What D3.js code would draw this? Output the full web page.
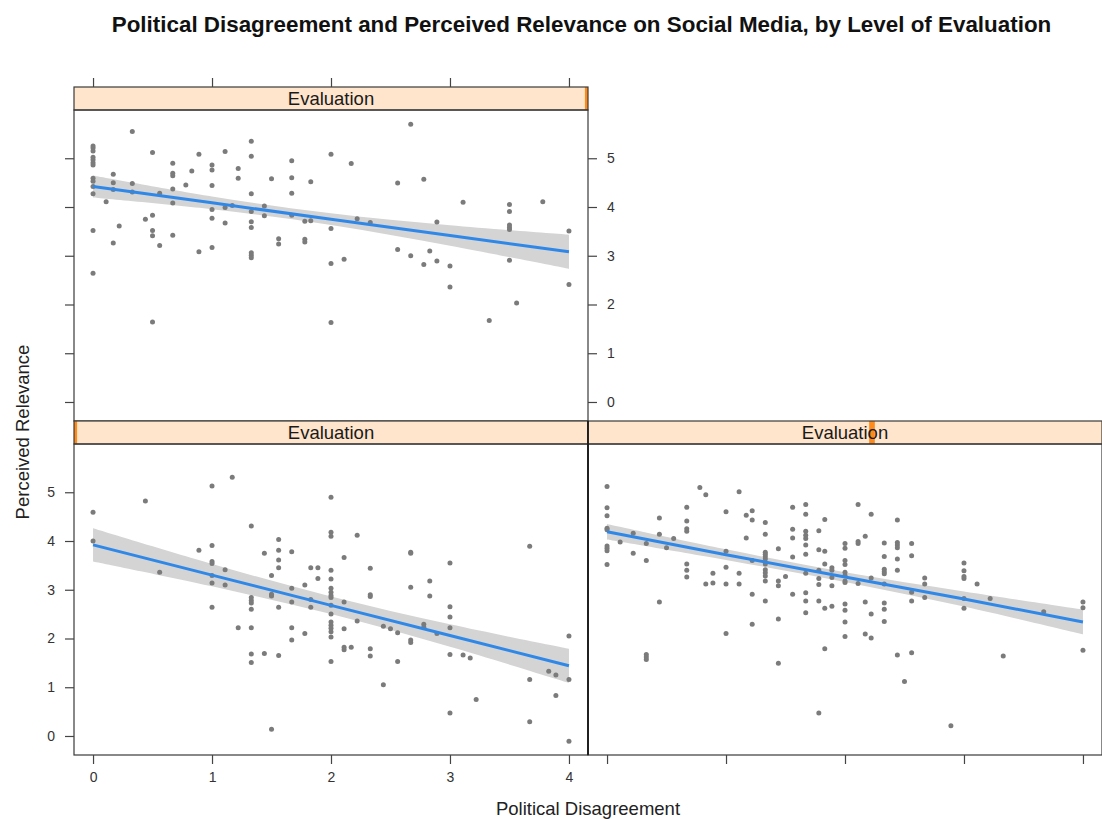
<!DOCTYPE html>
<html>
<head>
<meta charset="utf-8">
<script src="https://cdn.jsdelivr.net/npm/d3@7"></script>
<style>
  body { margin: 0; background: #ffffff; }
  svg { display: block; font-family: "Liberation Sans", Arial, Helvetica, sans-serif; }
</style>
</head>
<body>
<svg id="chart" width="1102" height="819"></svg>
<script>
// ---- Chart text ----
const chartTitle = "Political Disagreement and Perceived Relevance on Social Media, by Level of Evaluation";
const xTitle = "Political Disagreement";
const yTitle = "Perceived Relevance";
const stripLabel = "Evaluation";

// ---- Axis ticks ----
const xTicks = [0, 1, 2, 3, 4];
const yTicks = [0, 1, 2, 3, 4, 5];
const xLimits = [-0.16, 4.16];
const yLimits = [-0.39, 5.99];

// ---- High evaluation panel (top) ----
const highDisagreement = [
  0,0,0,0,0,0,0,0,0,0,0,0,0,
  0.11,
  0.17,0.17,0.17,0.17,
  0.22,
  0.33,0.33,0.33,
  0.44,
  0.5,0.5,0.5,0.5,0.5,
  0.56,0.56,
  0.67,0.67,0.67,0.67,0.67,0.67,
  0.78,
  0.83,
  0.89,0.89,
  1,1,1,1,1,1,
  1.11,1.11,1.11,
  1.17,
  1.22,1.22,
  1.33,1.33,1.33,1.33,1.33,1.33,1.33,1.33,1.33,
  1.44,1.44,
  1.5,
  1.56,1.56,
  1.67,1.67,1.67,1.67,
  1.78,1.78,1.78,
  1.83,1.83,
  2,2,2,2,
  2.11,
  2.17,
  2.22,
  2.33,
  2.56,2.56,
  2.67,2.67,
  2.78,2.78,
  2.83,
  2.89,2.89,
  3,3,
  3.11,
  3.33,
  3.5,3.5,3.5,3.5,3.5,3.5,
  3.56,
  3.78,
  4,4
];
const highRelevance = [
  5.25,5.21,5.15,5.02,4.97,4.91,4.86,4.59,4.53,4.42,4.27,3.52,2.64,
  4.11,
  4.67,4.50,4.36,3.26,
  3.61,
  5.55,4.48,4.31,
  3.75,
  5.12,3.83,3.52,3.41,1.64,
  4.28,3.21,
  4.90,4.69,4.64,4.37,4.08,3.42,
  4.45,
  4.74,
  5.08,3.08,
  4.86,4.76,4.44,3.95,3.77,3.17,
  5.14,3.99,3.67,
  4.03,
  4.79,4.59,
  5.35,5.04,4.27,3.91,3.70,3.58,3.06,3.01,2.96,
  4.02,3.82,
  4.58,
  3.35,3.24,
  4.95,4.60,4.28,3.83,
  3.71,3.34,3.28,
  4.52,3.72,
  5.08,3.56,2.84,1.63,
  2.93,
  4.89,
  3.76,
  3.68,
  4.49,3.13,
  5.70,3.00,
  4.57,2.82,
  3.10,
  3.69,2.89,
  2.79,2.36,
  4.10,
  1.67,
  4.05,3.91,3.63,3.58,3.54,2.91,
  2.03,
  4.11,
  3.51,2.41
];

// ---- Low evaluation panel (bottom left) ----
const lowDisagreement = [
  0,0,
  0.44,
  0.56,
  0.89,
  1,1,1,1,1,1,1,
  1.11,1.11,
  1.17,
  1.22,
  1.33,1.33,1.33,1.33,1.33,1.33,1.33,1.33,
  1.44,1.44,
  1.5,1.5,1.5,1.5,
  1.56,1.56,1.56,1.56,1.56,1.56,
  1.67,1.67,1.67,1.67,1.67,
  1.78,1.78,
  1.83,1.83,1.83,
  1.89,1.89,
  2,2,2,2,2,2,2,2,2,2,2,2,2,2,2,2,2,
  2.11,2.11,2.11,2.11,2.11,
  2.17,
  2.22,2.22,
  2.33,2.33,2.33,2.33,2.33,
  2.44,2.44,
  2.5,
  2.56,2.56,
  2.67,2.67,2.67,2.67,2.67,
  2.78,2.78,
  2.83,2.83,
  2.89,
  3,3,3,3,3,3,
  3.11,
  3.17,
  3.22,
  3.67,3.67,3.67,
  3.83,
  3.89,3.89,
  4,4,4
];
const lowRelevance = [
  4.59,4.00,
  4.82,
  3.36,
  3.81,
  5.13,3.91,3.58,3.54,3.29,3.14,2.64,
  3.41,3.10,
  5.31,
  2.22,
  4.31,2.84,2.78,2.73,2.60,2.22,1.68,1.51,
  3.75,1.69,
  3.29,2.91,2.87,0.14,
  4.03,3.81,3.61,3.45,2.64,1.65,
  3.78,3.03,2.75,2.22,1.97,
  3.10,2.10,
  3.45,2.80,2.64,
  3.45,3.23,
  4.90,4.18,4.10,3.40,3.22,3.03,2.95,2.88,2.84,2.68,2.50,2.34,2.27,2.21,2.14,2.03,1.53,
  3.66,2.75,2.20,1.82,1.77,
  1.82,
  4.12,2.36,
  3.44,2.90,2.86,1.79,1.64,
  2.25,1.05,
  2.20,
  2.12,1.53,
  3.77,3.75,3.05,1.97,1.92,
  2.29,2.23,
  3.18,2.87,
  2.10,
  3.55,2.65,2.44,2.22,1.67,0.47,
  1.66,
  1.60,
  0.75,
  3.89,1.16,0.29,
  1.33,
  1.25,0.83,
  2.05,1.16,-0.11
];

// ---- Middle evaluation panel (bottom right) ----
const midDisagreement = [
  0,0,0,0,0,0,0,0,0,
  0.11,
  0.22,0.22,
  0.33,0.33,0.33,0.33,0.33,
  0.44,0.44,0.44,
  0.5,
  0.56,
  0.67,0.67,0.67,0.67,0.67,0.67,0.67,
  0.78,
  0.83,0.83,
  0.89,0.89,
  1,1,1,1,1,
  1.11,1.11,1.11,
  1.17,1.17,
  1.22,1.22,1.22,1.22,1.22,
  1.33,1.33,1.33,1.33,1.33,1.33,1.33,1.33,1.33,1.33,1.33,1.33,
  1.44,1.44,1.44,1.44,1.44,
  1.5,
  1.56,1.56,1.56,1.56,1.56,
  1.67,1.67,1.67,1.67,1.67,1.67,1.67,1.67,1.67,1.67,1.67,
  1.78,1.78,1.78,1.78,1.78,1.78,1.78,
  1.83,1.83,1.83,1.83,1.83,
  1.89,1.89,1.89,1.89,1.89,
  2,2,2,2,2,2,2,2,2,2,2,2,
  2.11,2.11,2.11,2.11,
  2.17,2.17,2.17,
  2.22,2.22,2.22,2.22,
  2.33,2.33,2.33,2.33,2.33,2.33,2.33,2.33,2.33,
  2.44,2.44,2.44,2.44,2.44,2.44,2.44,
  2.5,
  2.56,2.56,2.56,2.56,2.56,
  2.67,2.67,2.67,
  2.89,
  3,3,3,3,3,3,
  3.11,
  3.22,
  3.33,
  3.67,
  4,4,4
];
const midRelevance = [
  5.12,4.68,4.52,4.26,4.23,3.90,3.85,3.80,3.52,
  3.98,
  4.16,3.75,
  3.95,3.60,1.67,1.62,1.57,
  4.47,4.14,2.75,
  3.86,
  4.05,
  4.69,4.41,4.25,4.20,3.53,3.40,3.26,
  5.10,
  4.95,3.12,
  3.34,3.14,
  4.60,3.79,3.46,3.12,2.10,
  5.01,3.34,3.12,
  4.53,4.06,
  4.62,4.43,3.60,2.91,2.29,
  4.38,4.14,3.77,3.73,3.68,3.63,3.53,3.41,3.35,3.28,3.18,2.77,
  3.84,3.18,3.08,2.40,1.49,
  3.27,
  4.69,4.24,4.06,3.67,2.91,
  4.75,4.55,4.20,4.12,4.05,3.92,3.73,3.34,2.94,2.77,2.53,
  4.21,3.82,3.40,3.23,3.11,2.77,0.47,
  4.44,3.79,3.53,2.62,1.79,
  3.45,3.40,3.25,3.08,2.66,
  3.95,3.85,3.60,3.52,3.36,3.29,3.18,3.15,2.71,2.58,2.34,2.04,
  4.75,3.99,3.95,3.13,
  4.10,2.75,2.09,
  4.55,3.24,2.50,2.01,
  3.96,3.68,3.42,3.37,3.33,3.12,2.73,2.60,2.35,
  4.43,3.97,3.92,3.86,3.63,3.40,1.66,
  1.12,
  3.95,3.70,2.95,2.77,1.71,
  3.24,3.12,2.84,
  0.21,
  3.55,3.39,3.27,3.23,2.82,2.62,
  3.12,
  2.82,
  1.64,
  2.55,
  2.75,2.63,1.76
];

// ---- Fitted regression lines and 95% band half-widths, at each x tick ----
const fitX = [0, 1, 2, 3, 4];
const highFit = [4.42, 4.085, 3.75, 3.415, 3.08];
const highBand = [0.225, 0.13, 0.12, 0.21, 0.35];
const lowFit = [3.92, 3.30, 2.68, 2.06, 1.44];
const lowBand = [0.34, 0.23, 0.18, 0.23, 0.35];
const midFit = [4.19, 3.72, 3.26, 2.81, 2.34];
const midBand = [0.16, 0.11, 0.10, 0.155, 0.255];

// Shingle level covered by each panel, as a share of the full Evaluation range
const highLevelSpan = [0.994, 1.0];
const lowLevelSpan = [0.0, 0.006];
const midLevelSpan = [0.547, 0.558];

// ---- Layout ----
const svg = d3.select("#chart");
const panelW = 514, panelH = 311, stripH = 23;
const colLeft = [74, 588];
const rowStripTop = [87, 421];

const palette = {
  point: "#7b7b7b",
  line: "#2f88e8",
  band: "#d4d4d4",
  strip: "#ffe5cc",
  stripMark: "#ff8a1c",
  frame: "#3a3a3a",
  text: "#1a1a1a",
  tick: "#444444"
};

const panels = [
  { x: highDisagreement, y: highRelevance, fit: highFit, band: highBand, span: highLevelSpan,
    col: 0, row: 0, top: "ticks", left: "ticks", right: "labels", bottom: null },
  { x: lowDisagreement, y: lowRelevance, fit: lowFit, band: lowBand, span: lowLevelSpan,
    col: 0, row: 1, top: null, left: "labels", right: null, bottom: "labels" },
  { x: midDisagreement, y: midRelevance, fit: midFit, band: midBand, span: midLevelSpan,
    col: 1, row: 1, top: null, left: null, right: null, bottom: "ticks" }
];

const tickFont = 14;

panels.forEach(p => {
  const left = colLeft[p.col];
  const stripTop = rowStripTop[p.row];
  const top = stripTop + stripH;
  const xs = d3.scaleLinear().domain(xLimits).range([left, left + panelW]);
  const ys = d3.scaleLinear().domain(yLimits).range([top + panelH, top]);
  const g = svg.append("g");

  const fitRows = fitX.map((xv, i) => ({ x: xv, fit: p.fit[i], lo: p.fit[i] - p.band[i], hi: p.fit[i] + p.band[i] }));

  // confidence band
  g.append("path")
    .datum(fitRows)
    .attr("fill", palette.band)
    .attr("d", d3.area().curve(d3.curveCatmullRom).x(d => xs(d.x)).y0(d => ys(d.lo)).y1(d => ys(d.hi)));

  // points
  g.append("g").selectAll("circle")
    .data(p.x.map((v, i) => [v, p.y[i]]))
    .join("circle")
    .attr("cx", d => xs(d[0]))
    .attr("cy", d => ys(d[1]))
    .attr("r", 2.5)
    .attr("fill", palette.point);

  // fitted line
  g.append("path")
    .datum(fitRows)
    .attr("fill", "none")
    .attr("stroke", palette.line)
    .attr("stroke-width", 3)
    .attr("d", d3.line().x(d => xs(d.x)).y(d => ys(d.fit)));

  // strip
  g.append("rect")
    .attr("x", left).attr("y", stripTop)
    .attr("width", panelW).attr("height", stripH)
    .attr("fill", palette.strip);
  const sx = d3.scaleLinear().domain([0, 1]).range([left, left + panelW]);
  g.append("rect")
    .attr("x", sx(p.span[0])).attr("y", stripTop)
    .attr("width", Math.max(3, sx(p.span[1]) - sx(p.span[0]))).attr("height", stripH)
    .attr("fill", palette.stripMark);
  g.append("text")
    .attr("x", left + panelW / 2).attr("y", stripTop + stripH / 2 + 6.5)
    .attr("text-anchor", "middle")
    .attr("font-size", 18.5)
    .attr("fill", palette.text)
    .text(stripLabel);
  g.append("rect")
    .attr("x", left).attr("y", stripTop)
    .attr("width", panelW).attr("height", stripH)
    .attr("fill", "none").attr("stroke", palette.frame).attr("stroke-width", 1.2);

  // panel frame
  g.append("rect")
    .attr("x", left).attr("y", top)
    .attr("width", panelW).attr("height", panelH)
    .attr("fill", "none").attr("stroke", palette.frame).attr("stroke-width", 1.2);

  // axes
  function styleAxis(sel) {
    sel.select(".domain").remove();
    sel.selectAll("line").attr("stroke", palette.tick).attr("stroke-width", 1.2);
    sel.selectAll("text").attr("fill", "#333").attr("font-size", tickFont)
      .attr("font-family", "'Liberation Sans', Arial, sans-serif");
  }
  if (p.top) {
    g.append("g").attr("transform", `translate(0,${stripTop})`)
      .call(d3.axisTop(xs).tickValues(xTicks).tickSize(9).tickFormat(p.top === "labels" ? d3.format("d") : ""))
      .call(styleAxis);
  }
  if (p.bottom) {
    g.append("g").attr("transform", `translate(0,${top + panelH})`)
      .call(d3.axisBottom(xs).tickValues(xTicks).tickSize(9).tickPadding(8)
        .tickFormat(p.bottom === "labels" ? d3.format("d") : ""))
      .call(styleAxis);
  }
  if (p.left) {
    g.append("g").attr("transform", `translate(${left},0)`)
      .call(d3.axisLeft(ys).tickValues(yTicks).tickSize(9).tickPadding(10)
        .tickFormat(p.left === "labels" ? d3.format("d") : ""))
      .call(styleAxis);
  }
  if (p.right) {
    g.append("g").attr("transform", `translate(${left + panelW},0)`)
      .call(d3.axisRight(ys).tickValues(yTicks).tickSize(9).tickPadding(10)
        .tickFormat(p.right === "labels" ? d3.format("d") : ""))
      .call(styleAxis);
  }
});

// divider between the two lower panels
svg.append("line")
  .attr("x1", colLeft[1]).attr("x2", colLeft[1])
  .attr("y1", rowStripTop[1]).attr("y2", rowStripTop[1] + stripH + panelH)
  .attr("stroke", "#1a1a1a").attr("stroke-width", 1.8);

// titles
svg.append("text")
  .attr("x", 581.5).attr("y", 32)
  .attr("text-anchor", "middle")
  .attr("font-size", 22.4).attr("font-weight", "bold")
  .attr("fill", "#111")
  .text(chartTitle);

svg.append("text")
  .attr("x", 588).attr("y", 815)
  .attr("text-anchor", "middle")
  .attr("font-size", 18.5)
  .attr("fill", "#222")
  .text(xTitle);

svg.append("text")
  .attr("transform", "translate(29,432) rotate(-90)")
  .attr("text-anchor", "middle")
  .attr("font-size", 18.5)
  .attr("fill", "#222")
  .text(yTitle);
</script>
</body>
</html>
